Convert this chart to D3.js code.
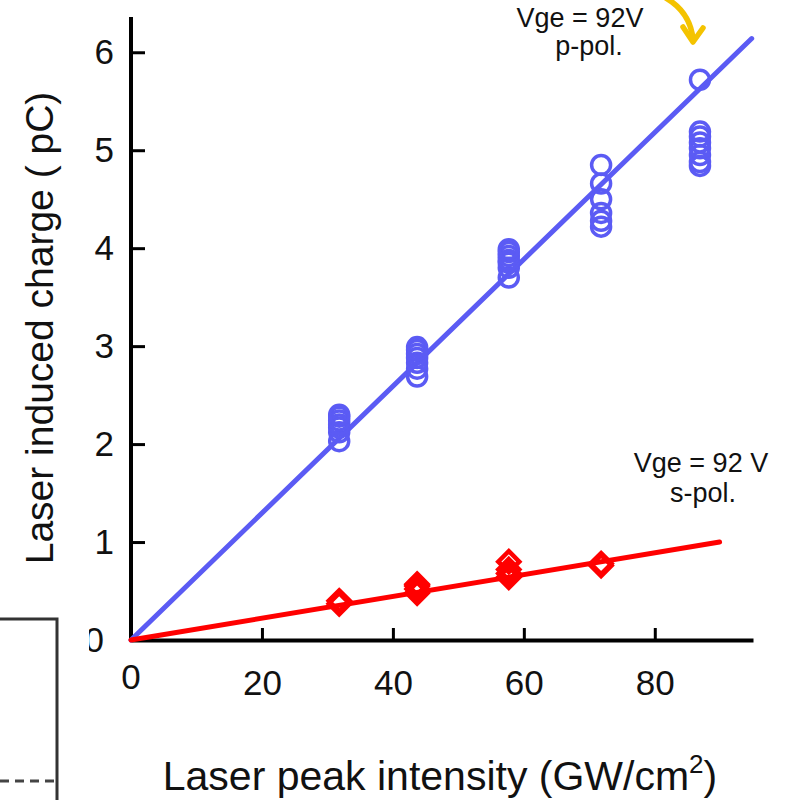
<!DOCTYPE html>
<meta charset="utf-8" />
<script src="https://d3js.org/d3.v7.min.js"></script>
<style>
  body { margin: 0; background: #fff; }
  text { font-family: "Liberation Sans", Arial, sans-serif; fill: #111; }
</style>
<body>
  <div id="chart"></div>
  <script>
    // intensities (GW/cm2) where shots were taken
    const intensities = [31.8, 43.7, 57.7, 71.8, 86.9];
    // p-pol charge values (pC), one list per intensity
    const pPolCharge = [
      [2.03, 2.12, 2.17, 2.2, 2.24, 2.28, 2.3],
      [2.69, 2.77, 2.83, 2.88, 2.92, 2.96, 2.99],
      [3.7, 3.8, 3.85, 3.88, 3.92, 3.96, 3.99],
      [4.22, 4.28, 4.36, 4.5, 4.66, 4.85],
      [4.84, 4.88, 4.95, 5.02, 5.08, 5.14, 5.19, 5.72]
    ];
    // s-pol charge values (pC), first four intensities only
    const sPolCharge = [
      [0.37, 0.4],
      [0.48, 0.52, 0.55, 0.57],
      [0.64, 0.68, 0.72, 0.8],
      [0.76, 0.78]
    ];
    // linear fits through origin
    const pFit = [[0, 0], [94.8, 6.14]];
    const sFit = [[0, 0], [89.9, 1.0]];
    const xTicks = [20, 40, 60, 80];
    const yTicks = [1, 2, 3, 4, 5, 6];

    const blue = "#5b5bf4", red = "#ff0000";

    const svg = d3.select("#chart").append("svg")
      .attr("width", 788).attr("height", 800);

    const x = d3.scaleLinear().domain([0, 95]).range([131, 753]);
    const y = d3.scaleLinear().domain([0, 6.36]).range([640, 17]);

    // left box from neighbouring figure
    svg.append("path")
      .attr("d", "M-5,619 H57 V805")
      .attr("fill", "none").attr("stroke", "#333").attr("stroke-width", 3);
    svg.append("line")
      .attr("x1", 0).attr("x2", 55).attr("y1", 781).attr("y2", 781)
      .attr("stroke", "#444").attr("stroke-width", 3).attr("stroke-dasharray", "9,6");

    // clipped "0" label near box
    svg.append("clipPath").attr("id", "clip0")
      .append("rect").attr("x", 89).attr("y", 600).attr("width", 40).attr("height", 80);
    svg.append("text")
      .attr("clip-path", "url(#clip0)")
      .attr("x", 104).attr("y", 652).attr("text-anchor", "end")
      .style("font-size", "35px").text("0");

    // axes
    const yAxis = svg.append("g")
      .attr("transform", "translate(" + x(0) + ",0)")
      .call(d3.axisLeft(y).tickValues(yTicks).tickFormat(d3.format("d"))
        .tickSize(-14).tickPadding(17).tickSizeOuter(0));
    const xAxis = svg.append("g")
      .attr("transform", "translate(0," + y(0) + ")")
      .call(d3.axisBottom(x).tickValues(xTicks).tickFormat(d3.format("d"))
        .tickSize(-12).tickPadding(30).tickSizeOuter(0));

    [yAxis, xAxis].forEach(function (g) {
      g.select(".domain").attr("stroke", "#000").attr("stroke-width", 4);
      g.selectAll(".tick line").attr("stroke", "#000").attr("stroke-width", 3);
      g.selectAll(".tick text")
        .style("font-size", "35px")
        .style("font-family", "'Liberation Sans', Arial, sans-serif")
        .attr("fill", "#111");
    });
    yAxis.select(".domain").attr("d", "M0," + y(6.36) + "V" + y(0));
    svg.append("text")
      .attr("x", x(0)).attr("y", 689).attr("text-anchor", "middle")
      .style("font-size", "35px").text("0");

    // fit lines
    const line = d3.line().x(d => x(d[0])).y(d => y(d[1]));
    svg.append("path").datum(pFit).attr("d", line)
      .attr("fill", "none").attr("stroke", blue).attr("stroke-width", 5).attr("stroke-linecap", "round");

    // p-pol circles
    const pPts = [];
    pPolCharge.forEach((vals, i) => vals.forEach(v => pPts.push([intensities[i], v])));
    svg.selectAll(".pc").data(pPts).enter().append("circle")
      .attr("cx", d => x(d[0])).attr("cy", d => y(d[1])).attr("r", 9.5)
      .attr("fill", "none").attr("stroke", blue).attr("stroke-width", 3.5);

    svg.append("path").datum(sFit).attr("d", line)
      .attr("fill", "none").attr("stroke", red).attr("stroke-width", 5).attr("stroke-linecap", "round");

    // s-pol diamonds
    const sPts = [];
    sPolCharge.forEach((vals, i) => vals.forEach(v => sPts.push([intensities[i], v])));
    svg.selectAll(".sd").data(sPts).enter().append("path")
      .attr("d", d => {
        const cx = x(d[0]), cy = y(d[1]), r = 10.5;
        return "M" + cx + "," + (cy - r) + "L" + (cx + r) + "," + cy + "L" + cx + "," + (cy + r) + "L" + (cx - r) + "," + cy + "Z";
      })
      .attr("fill", "none").attr("stroke", red).attr("stroke-width", 4.5);

    // axis titles
    svg.append("text")
      .attr("transform", "translate(53,328) rotate(-90)")
      .attr("text-anchor", "middle")
      .style("font-size", "39px").text("Laser induced charge ( pC)");
    const xt = svg.append("text")
      .attr("x", 440).attr("y", 790).attr("text-anchor", "middle")
      .style("font-size", "41px");
    xt.append("tspan").text("Laser peak intensity (GW/cm");
    xt.append("tspan").attr("dy", -17).style("font-size", "26px").text("2");
    xt.append("tspan").attr("dy", 17).text(")");

    // annotations
    svg.append("text").attr("x", 580).attr("y", 27).attr("text-anchor", "middle")
      .style("font-size", "27px").text("Vge = 92V");
    svg.append("text").attr("x", 589).attr("y", 55).attr("text-anchor", "middle")
      .style("font-size", "27px").text("p-pol.");
    svg.append("text").attr("x", 701).attr("y", 472).attr("text-anchor", "middle")
      .style("font-size", "27px").text("Vge = 92 V");
    svg.append("text").attr("x", 703).attr("y", 502).attr("text-anchor", "middle")
      .style("font-size", "27px").text("s-pol.");

    // yellow arrow
    const arrow = svg.append("g").attr("fill", "none").attr("stroke", "#f4c300")
      .attr("stroke-width", 5.5).attr("stroke-linecap", "round").attr("stroke-linejoin", "round");
    arrow.append("path").attr("d", "M666,-2 Q690,12 693,39");
    arrow.append("path").attr("d", "M683,27 L693,42 L703,28");
  </script>
</body>
